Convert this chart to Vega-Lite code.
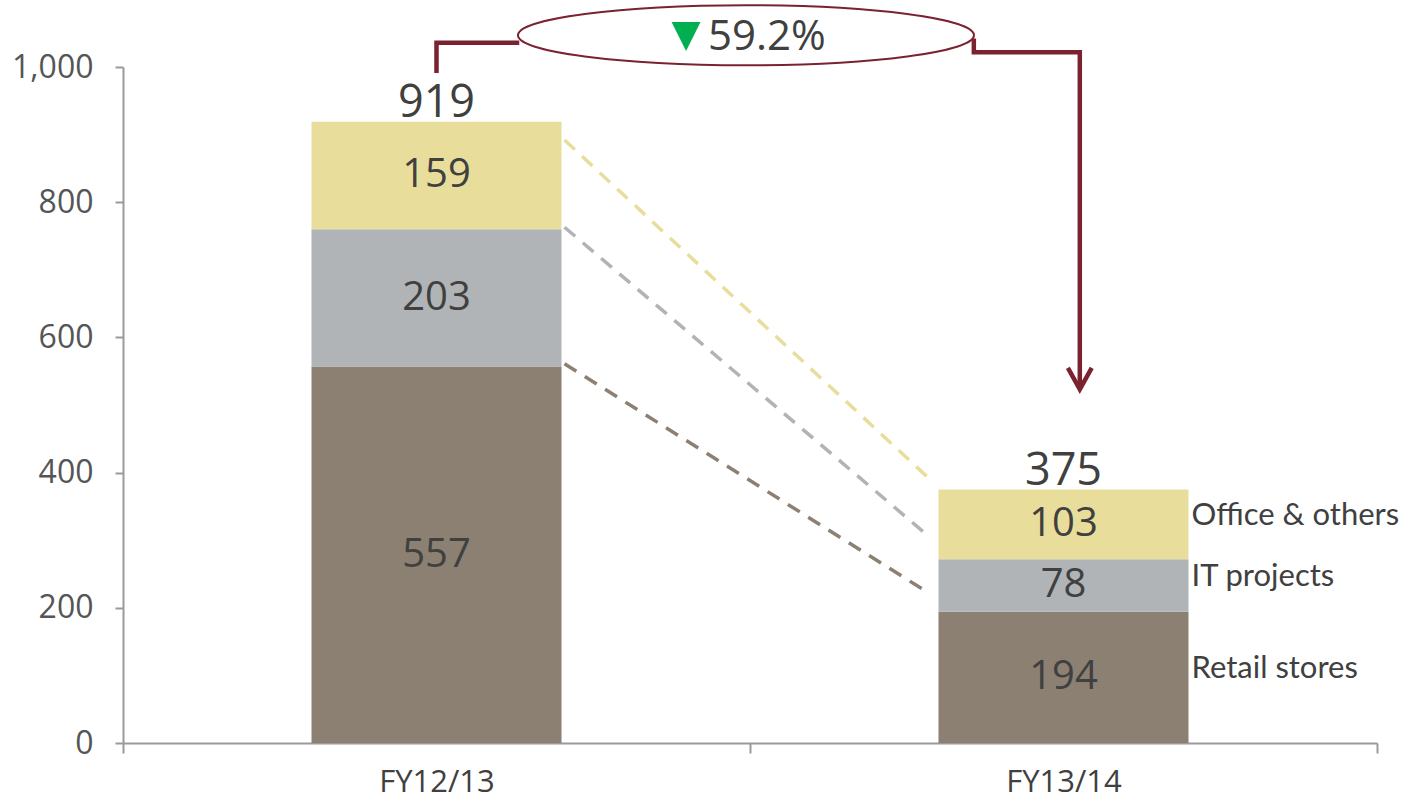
{
  "$schema": "https://vega.github.io/schema/vega-lite/v6.json",
  "width": 1254,
  "height": 676,
  "autosize": {"type": "none"},
  "padding": {"left": 123, "top": 67, "right": 35, "bottom": 59},
  "background": "white",
  "config": {
    "view": {"stroke": null},
    "font": "Open Sans",
    "axisY": {
      "title": null,
      "grid": false,
      "tickSize": 8,
      "tickWidth": 2,
      "tickColor": "#9a9a9a",
      "domainColor": "#9a9a9a",
      "domainWidth": 2,
      "labelPadding": 22,
      "labelFont": "Open Sans",
      "labelFontSize": 32,
      "labelColor": "#555555"
    }
  },
  "datasets": {
    "costs": [
      {"period": "FY12/13", "segment": "Retail stores", "value": 557},
      {"period": "FY12/13", "segment": "IT projects", "value": 203},
      {"period": "FY12/13", "segment": "Office & others", "value": 159},
      {"period": "FY13/14", "segment": "Retail stores", "value": 194},
      {"period": "FY13/14", "segment": "IT projects", "value": 78},
      {"period": "FY13/14", "segment": "Office & others", "value": 103}
    ],
    "connectors": [
      {"segment": "Office & others", "p0": "FY12/13", "p1": "FY13/14", "v0": 892, "v1": 392},
      {"segment": "IT projects", "p0": "FY12/13", "p1": "FY13/14", "v0": 763, "v1": 306},
      {"segment": "Retail stores", "p0": "FY12/13", "p1": "FY13/14", "v0": 561, "v1": 222}
    ],
    "bracket": [
      {"path": "left", "i": 0, "ax": 0.5, "ay": 991},
      {"path": "left", "i": 1, "ax": 0.5, "ay": 1036},
      {"path": "left", "i": 2, "ax": 0.632, "ay": 1036},
      {"path": "right", "i": 0, "ax": 1.357, "ay": 1042},
      {"path": "right", "i": 1, "ax": 1.357, "ay": 1022},
      {"path": "right", "i": 2, "ax": 1.526, "ay": 1022},
      {"path": "right", "i": 3, "ax": 1.526, "ay": 524},
      {"path": "head", "i": 0, "ax": 1.507, "ay": 555},
      {"path": "head", "i": 1, "ax": 1.526, "ay": 523},
      {"path": "head", "i": 2, "ax": 1.545, "ay": 555}
    ],
    "change": [
      {"label": "59.2%", "ax": 0.9936, "ay": 1047, "tx": 0.898, "ty": 1045, "lx": 1.027, "ly": 1044}
    ]
  },
  "layer": [
    {
      "layer": [
        {
          "data": {"name": "costs"},
          "transform": [
            {"calculate": "indexof(['Retail stores','IT projects','Office & others'], datum.segment)", "as": "idx"},
            {"stack": "value", "groupby": ["period"], "sort": [{"field": "idx", "order": "ascending"}], "as": ["v0", "v1"]}
          ],
          "mark": {"type": "bar", "width": 250},
          "encoding": {
            "x": {
              "field": "period",
              "type": "nominal",
              "scale": {"paddingInner": 0, "paddingOuter": 0},
              "axis": {
                "title": null,
                "labelAngle": 0,
                "tickBand": "extent",
                "tickSize": 10,
                "tickWidth": 2,
                "tickColor": "#9a9a9a",
                "domainColor": "#9a9a9a",
                "domainWidth": 2,
                "labelPadding": 14,
                "labelFont": "Open Sans",
                "labelFontSize": 31,
                "labelColor": "#404040"
              }
            },
            "y": {
              "field": "v0",
              "type": "quantitative",
              "scale": {"domain": [0, 1000], "nice": false},
              "axis": {"values": [0, 200, 400, 600, 800, 1000], "format": ",d"}
            },
            "y2": {"field": "v1"},
            "color": {
              "field": "segment",
              "type": "nominal",
              "scale": {
                "domain": ["Retail stores", "IT projects", "Office & others"],
                "range": ["#8c8073", "#b1b4b6", "#e8dd9b"]
              },
              "legend": null
            }
          }
        },
        {
          "data": {"name": "costs"},
          "transform": [
            {"calculate": "indexof(['Retail stores','IT projects','Office & others'], datum.segment)", "as": "idx"},
            {"stack": "value", "groupby": ["period"], "sort": [{"field": "idx", "order": "ascending"}], "as": ["v0", "v1"]},
            {"calculate": "(datum.v0 + datum.v1) / 2", "as": "mid"}
          ],
          "mark": {"type": "text", "font": "Open Sans", "fontSize": 40, "color": "#404040", "baseline": "middle", "align": "center"},
          "encoding": {
            "x": {"field": "period", "type": "nominal"},
            "y": {"field": "mid", "type": "quantitative", "axis": {"values": [0, 200, 400, 600, 800, 1000], "format": ",d"}},
            "text": {"field": "value", "type": "quantitative"}
          }
        },
        {
          "data": {"name": "costs"},
          "transform": [
            {"filter": "datum.period === 'FY13/14'"},
            {"calculate": "indexof(['Retail stores','IT projects','Office & others'], datum.segment)", "as": "idx"},
            {"stack": "value", "groupby": ["period"], "sort": [{"field": "idx", "order": "ascending"}], "as": ["v0", "v1"]},
            {"calculate": "(datum.v0 + datum.v1) / 2", "as": "mid"}
          ],
          "mark": {"type": "text", "font": "Lato", "fontSize": 31, "color": "#404040", "baseline": "middle", "align": "left", "dx": 128, "dy": -8},
          "encoding": {
            "x": {"field": "period", "type": "nominal"},
            "y": {"field": "mid", "type": "quantitative", "axis": {"values": [0, 200, 400, 600, 800, 1000], "format": ",d"}},
            "text": {"field": "segment", "type": "nominal"}
          }
        },
        {
          "data": {"name": "costs"},
          "transform": [
            {"aggregate": [{"op": "sum", "field": "value", "as": "total"}], "groupby": ["period"]}
          ],
          "mark": {"type": "text", "font": "Open Sans", "fontSize": 45, "color": "#404040", "baseline": "alphabetic", "align": "center", "dy": -5},
          "encoding": {
            "x": {"field": "period", "type": "nominal"},
            "y": {"field": "total", "type": "quantitative", "axis": {"values": [0, 200, 400, 600, 800, 1000], "format": ",d"}},
            "text": {"field": "total", "type": "quantitative"}
          }
        },
        {
          "data": {"name": "connectors"},
          "mark": {"type": "rule", "strokeWidth": 3.5, "strokeDash": [14, 10], "xOffset": 128, "x2Offset": -135},
          "encoding": {
            "x": {"field": "p0", "type": "nominal"},
            "x2": {"field": "p1"},
            "y": {"field": "v0", "type": "quantitative", "axis": {"values": [0, 200, 400, 600, 800, 1000], "format": ",d"}},
            "y2": {"field": "v1"},
            "color": {"field": "segment", "type": "nominal", "legend": null}
          }
        }
      ]
    },
    {
      "layer": [
        {
          "data": {"name": "bracket"},
          "mark": {"type": "line", "color": "#7b2231", "strokeWidth": 4.5, "strokeJoin": "miter", "strokeCap": "butt"},
          "encoding": {
            "x": {"field": "ax", "type": "quantitative", "scale": {"domain": [0, 2], "nice": false, "zero": false}, "axis": null},
            "y": {"field": "ay", "type": "quantitative", "axis": {"values": [0, 200, 400, 600, 800, 1000], "format": ",d"}},
            "detail": {"field": "path", "type": "nominal"},
            "order": {"field": "i", "type": "quantitative"}
          }
        },
        {
          "data": {"name": "change"},
          "mark": {
            "type": "point",
            "shape": "M-1,0 C-1,-0.0727 -0.5523,-0.1316 0,-0.1316 C0.5523,-0.1316 1,-0.0727 1,0 C1,0.0727 0.5523,0.1316 0,0.1316 C-0.5523,0.1316 -1,0.0727 -1,0 Z",
            "size": 207936,
            "filled": false,
            "stroke": "#7b2231",
            "strokeWidth": 2,
            "opacity": 1
          },
          "encoding": {
            "x": {"field": "ax", "type": "quantitative", "axis": null},
            "y": {"field": "ay", "type": "quantitative", "axis": {"values": [0, 200, 400, 600, 800, 1000], "format": ",d"}}
          }
        },
        {
          "data": {"name": "change"},
          "mark": {"type": "point", "shape": "M-1,-1L1,-1L0,1Z", "size": 841, "filled": true, "color": "#00b050", "opacity": 1, "strokeWidth": 0},
          "encoding": {
            "x": {"field": "tx", "type": "quantitative", "axis": null},
            "y": {"field": "ty", "type": "quantitative", "axis": {"values": [0, 200, 400, 600, 800, 1000], "format": ",d"}}
          }
        },
        {
          "data": {"name": "change"},
          "mark": {"type": "text", "font": "Open Sans", "fontSize": 42, "color": "#404040", "align": "center", "baseline": "middle"},
          "encoding": {
            "x": {"field": "lx", "type": "quantitative", "axis": null},
            "y": {"field": "ly", "type": "quantitative", "axis": {"values": [0, 200, 400, 600, 800, 1000], "format": ",d"}},
            "text": {"field": "label", "type": "nominal"}
          }
        }
      ]
    }
  ],
  "resolve": {"scale": {"x": "independent"}}
}
